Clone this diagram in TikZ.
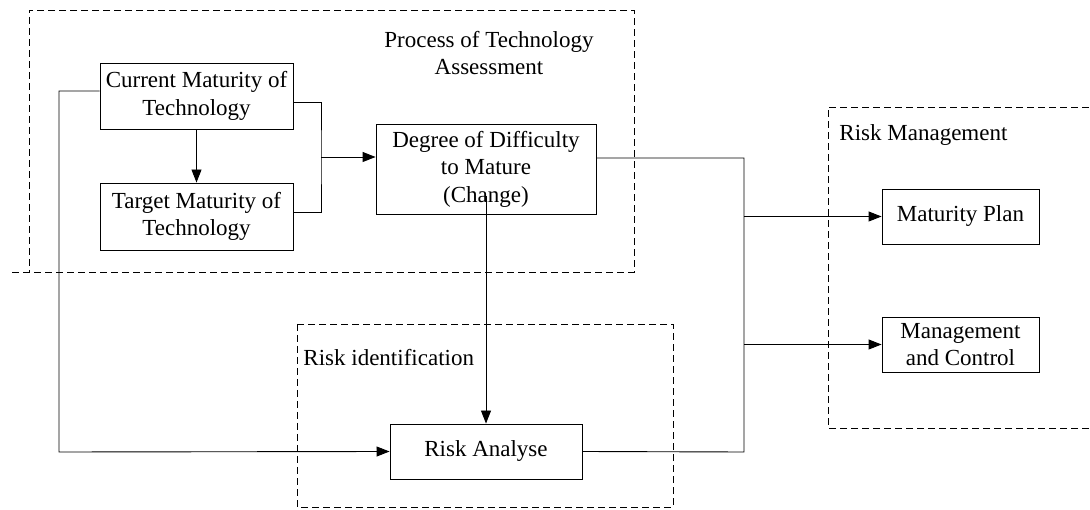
\documentclass[tikz,border=0pt]{standalone}
\usepackage{fontspec}
\setmainfont{Liberation Serif}
\usetikzlibrary{arrows.meta}

\begin{document}
\begin{tikzpicture}[x=1pt,y=-1pt,line width=0.9pt,
	every node/.style={font=\rmfamily\fontsize{23}{27.6}\selectfont},
	box/.style={draw,align=center,inner sep=0pt},
	grp/.style={draw,dash pattern=on 7pt off 4pt},
	arr/.style={-{Triangle[length=13pt,width=10pt]}}]
	\useasboundingbox (0,0) rectangle (1090,510);

	\draw[grp] (12,272) -- (634,272) -- (634,10) -- (29,10) -- (29,272);
	\draw[grp] (297,324) rectangle (673,507);
	\draw[grp] (1100,428) -- (828,428) -- (828,107) -- (1100,107);

	\node[align=center,inner sep=0pt] (ttl) at (489,53) {Process of Technology\\Assessment};
	\node[anchor=west,inner sep=0pt] (rid) at (303,358) {Risk identification};
	\node[anchor=west,inner sep=0pt] (rmg) at (839,135) {Risk Management};

	\node[box,minimum width=193,minimum height=66] (cur) at (196.5,96) {Current Maturity of\\Technology};
	\node[box,minimum width=193,minimum height=67] (tgt) at (196.5,216.5) {Target Maturity of\\Technology};
	\node[box,minimum width=220,minimum height=90] (deg) at (486,169) {Degree of Difficulty\\to Mature\\(Change)};
	\node[box,minimum width=192,minimum height=55] (ana) at (486,451.5) {Risk Analyse};
	\node[box,minimum width=157,minimum height=55] (plan) at (960.5,216.5) {Maturity Plan};
	\node[box,minimum width=157,minimum height=55] (ctrl) at (960.5,344.5) {Management\\and Control};

	\coordinate (jn) at (321,157);
	\coordinate (lc) at (59,452);
	\coordinate (bt) at (744,158);
	\coordinate (bb) at (744,452);

	\draw[arr] (cur) -- (tgt);
	\draw ([yshift=-6pt]cur.east) -| (jn) |- ([yshift=4pt]tgt.east);
	\draw[arr] (jn) -- (jn -| deg.west);
	\draw[arr] ([yshift=5pt]cur.west) -| (lc) -- (ana.west);
	\draw[arr] ([yshift=18pt]deg.south) -- (ana.north);
	\draw ([yshift=11pt]deg.east) -| (bb) -- (ana.east);
	\draw[arr] (bt |- plan) -- (plan.west);
	\draw[arr] (bt |- ctrl) -- (ctrl.west);
\end{tikzpicture}
\end{document}
